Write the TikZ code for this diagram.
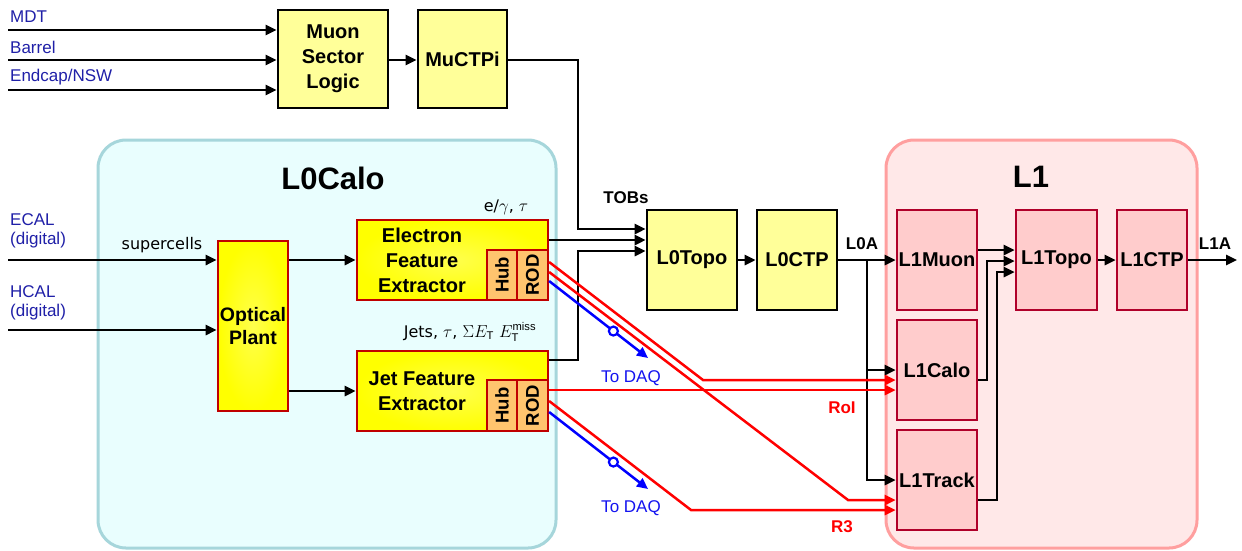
\documentclass[tikz,border=0pt]{standalone}
\usepackage{fontspec}
\usepackage{graphicx}
\setmainfont{Liberation Sans}
\newfontfamily\tahfont{DejaVu Sans}
\usetikzlibrary{arrows.meta,calc}
\definecolor{ycol}{HTML}{FFFF99}
\definecolor{l1fill}{HTML}{FFCCCC}
\definecolor{l1bord}{HTML}{B0002A}
\definecolor{l1cont}{HTML}{FFE8E8}
\definecolor{l1contb}{HTML}{FF9F9F}
\definecolor{l0cont}{HTML}{E9FEFE}
\definecolor{l0contb}{HTML}{A6D6DB}
\definecolor{febord}{HTML}{C00000}
\definecolor{hubfill}{HTML}{FFC46E}
\definecolor{navy}{HTML}{2020A8}
\definecolor{daqblue}{HTML}{1414F0}
\definecolor{rline}{HTML}{FF0000}
\definecolor{bline}{HTML}{0000FF}
\begin{document}
\begin{tikzpicture}[x=1pt,y=-1pt,
  bf/.style={font=\fontsize{20}{25}\selectfont\bfseries},
  container/.style={line width=3pt, rounded corners=28pt, minimum width=#1, minimum height=408pt},
  ybox/.style={draw=black, line width=2.6pt, fill=ycol, inner sep=1pt, align=center, bf},
  lbox/.style={draw=l1bord, line width=2.6pt, fill=l1fill, inner sep=1pt, align=center, bf},
  febox/.style={draw=febord, line width=2.6pt, inner color=white!30!yellow, outer color=yellow, inner sep=0pt},
  hrbox/.style={draw=febord, line width=2.2pt, fill=hubfill, inner sep=0pt, font=\fontsize{18.5}{20}\selectfont\bfseries},
  fetext/.style={align=center, bf, inner sep=0pt},
  arr/.style={-{Triangle[length=11pt,width=10pt]}, line width=2.5pt},
  rarr/.style={arr, draw=rline},
  barr/.style={arr, draw=bline},
  lab/.style={font=\fontsize{17}{19}\selectfont, text=navy, inner sep=2pt, align=left},
  blab/.style={font=\fontsize{17}{19}\selectfont\bfseries, inner sep=1pt},
  tah/.style={font=\tahfont\fontsize{16}{19}\selectfont, inner sep=1pt},
  daqc/.style={circle, draw=bline, fill=white, line width=2.2pt, inner sep=0pt, minimum size=9pt},
]
\useasboundingbox (0,0) rectangle (1242,550);
\fill[white] (0,0) rectangle (1242,550);

% containers
\node[container=458pt, draw=l0contb, fill=l0cont] (l0calo) at (327,344) {};
\node[container=311pt, draw=l1contb, fill=l1cont] (l1) at (1041.5,344) {};
\node[font=\fontsize{31}{33}\selectfont\bfseries] (l0calot) at (333,178) {L0Calo};
\node[font=\fontsize{31}{33}\selectfont\bfseries] (l1t) at (1031,177) {L1};

% muon boxes
\node[ybox, minimum width=110pt, minimum height=98pt] (muon) at (333,59) {Muon\\Sector\\Logic};
\node[ybox, minimum width=89pt, minimum height=98pt] (muctpi) at (462.5,59) {MuCTPi};

% L0 boxes
\node[ybox, minimum width=90pt, minimum height=100pt] (l0topo) at (692,260) {L0Topo};
\node[ybox, minimum width=80pt, minimum height=100pt] (l0ctp) at (797,260) {L0CTP};

% L1 boxes
\node[lbox, minimum width=80pt, minimum height=100pt] (l1muon) at (937,260) {L1Muon};
\node[lbox, minimum width=81pt, minimum height=100pt] (l1topo) at (1056.5,260) {L1Topo};
\node[lbox, minimum width=70pt, minimum height=100pt] (l1ctp) at (1152,260) {L1CTP};
\node[lbox, minimum width=80pt, minimum height=100pt] (l1calo) at (937,370) {L1Calo};
\node[lbox, minimum width=80pt, minimum height=100pt] (l1track) at (937,480) {L1Track};

% L0Calo internals
\node[febox, minimum width=70pt, minimum height=170pt] (optical) at (253,326) {};
\node[fetext, align=center, font=\fontsize{19.5}{23}\selectfont\bfseries] (opticalt) at (253,326) {Optical\\Plant};
\node[febox, minimum width=191pt, minimum height=80pt] (efe) at (452.5,260) {};
\node[fetext] (efet) at (422,260) {Electron\\Feature\\Extractor};
\node[hrbox, minimum width=30pt, minimum height=50pt] (ehub) at (502,275) {\rotatebox{90}{Hub}};
\node[hrbox, minimum width=31pt, minimum height=50pt] (erod) at (532.5,275) {\rotatebox{90}{ROD}};
\node[febox, minimum width=191pt, minimum height=80pt] (jfe) at (452.5,391) {};
\node[fetext] (jfet) at (422,391) {Jet Feature\\Extractor};
\node[hrbox, minimum width=30pt, minimum height=51pt] (jhub) at (502,405.5) {\rotatebox{90}{Hub}};
\node[hrbox, minimum width=31pt, minimum height=51pt] (jrod) at (532.5,405.5) {\rotatebox{90}{ROD}};

% labels
\node[lab, anchor=west] (mdtl) at (8,17) {MDT};
\node[lab, anchor=west] (barl) at (8,47) {Barrel};
\node[lab, anchor=west] (endl) at (8,77) {Endcap/NSW};
\node[lab, anchor=west] (ecall) at (8,231) {ECAL\\(digital)};
\node[lab, anchor=west] (hcall) at (8,303) {HCAL\\(digital)};
\node[tah] (supl) at (162,245) {supercells};
\node[tah] (egl) at (506,207) {e/$\gamma$, $\tau$};
\node[tah] (jetl) at (470,332) {Jets, $\tau$, $\Sigma E_{\mathrm{T}}$ $E_{\mathrm{T}}^{\mathrm{miss}}$};
\node[blab] (tobl) at (626,198) {TOBs};
\node[blab] (l0al) at (862,244) {L0A};
\node[blab] (l1al) at (1215,244) {L1A};
\node[blab, text=rline] (roil) at (842,408) {RoI};
\node[blab, text=rline] (r3l) at (842,527) {R3};
\node[lab, text=daqblue] (daq1) at (631,378) {To DAQ};
\node[lab, text=daqblue] (daq2) at (631,508) {To DAQ};

% coordinates for free ends
\coordinate (mdtin) at (8,30);
\coordinate (barin) at (8,60);
\coordinate (endin) at (8,90);
\coordinate (ecalin) at (8,260);
\coordinate (hcalin) at (8,330);
\coordinate (l0abr) at (867,260);
\coordinate (l1aout) at (1237,260);

% muon inputs
\draw[arr] (mdtin) -- (muon.west |- mdtin);
\draw[arr] (barin) -- (muon.west |- barin);
\draw[arr] (endin) -- (muon.west |- endin);
\draw[arr] (muon.east |- 0,60) -- (muctpi.west |- 0,60);

% calo inputs
\draw[arr] (ecalin) -- (optical.west |- ecalin);
\draw[arr] (hcalin) -- (optical.west |- hcalin);
\draw[arr] (optical.east |- efe.west) -- (efe.west);
\draw[arr] (optical.east |- jfe.west) -- (jfe.west);

% to L0Topo
\draw[arr] (muctpi.east |- 0,60) -- (578,60) |- (l0topo.west |- 0,229);
\draw[arr] (efe.east |- 0,240) -- (l0topo.west |- 0,240);
\draw[arr] (jfe.east |- 0,360) -- (578,360) |- (l0topo.west |- 0,251);
\draw[arr] (l0topo.east) -- (l0ctp.west);
\draw[arr] (l0ctp.east) -- (l1muon.west);
\draw[arr] (l0abr) |- (l1calo.west |- 0,370);
\draw[arr] (l0abr) |- (l1track.west |- 0,480);

% L1 internal
\draw[arr] (l1muon.east |- 0,250) -- (l1topo.west |- 0,250);
\draw[arr] (l1calo.east |- 0,380) -- (987,380) |- (l1topo.west |- 0,261);
\draw[arr] (l1track.east |- 0,500) -- (997,500) |- (l1topo.west |- 0,272);
\draw[arr] (l1topo.east) -- (l1ctp.west);
\draw[arr] (l1ctp.east) -- (l1aout);

% red RoI / R3 lines
\draw[rarr] (erod.east |- 0,262) -- (703,380) -- (l1calo.west |- 0,380);
\draw[rarr] (erod.east |- 0,272) -- (848,500) -- (l1track.west |- 0,500);
\draw[rarr] (jrod.east |- 0,390) -- (l1calo.west |- 0,390);
\draw[rarr] (jrod.east |- 0,401) -- (691,510) -- (l1track.west |- 0,510);

% blue DAQ lines
\coordinate (daqe1) at (648,358);
\coordinate (daqe2) at (648,489);
\draw[barr] (erod.east |- 0,281) -- node[daqc, pos=0.65] (dc1) {} (daqe1);
\draw[barr] (jrod.east |- 0,412) -- node[daqc, pos=0.65] (dc2) {} (daqe2);
\end{tikzpicture}
\end{document}
